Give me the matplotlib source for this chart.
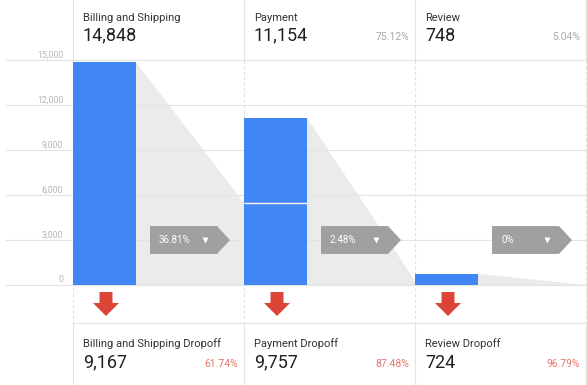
import matplotlib.pyplot as plt
from matplotlib.transforms import blended_transform_factory

plt.rcParams['font.family'] = ['Roboto', 'DejaVu Sans']

steps = ["Billing and Shipping", "Payment", "Review"]
entries = [14848, 11154, 748]
entry_labels = ["14,848", "11,154", "748"]
entry_pct = ["", "75.12%", "5.04%"]
continued_pct = [36.81, 2.48, 0]
continued_labels = ["36.81%", "2.48%", "0%"]
# part of each bar that came from the previous step (visible on Payment only)
carried_in = [None, 5450, None]
dropoff_names = ["Billing and Shipping Dropoff", "Payment Dropoff", "Review Dropoff"]
dropoff_labels = ["9,167", "9,757", "724"]
dropoff_pct = ["61.74%", "87.48%", "96.79%"]
yticks = [0, 3000, 6000, 9000, 12000, 15000]

W, H = 587, 385
fig = plt.figure(figsize=(W / 100, H / 100), dpi=100)
ax = fig.add_axes([73 / W, 100 / H, 513 / W, 225 / H])
ax.set_xlim(0, 3)
ax.set_ylim(0, 15000)
ax.axis("off")

px = 1 / 171  # one pixel in x data units
tr = blended_transform_factory(ax.transData, fig.transFigure)


def fy(py):
    return 1 - py / H


grid_c = "#e3e3e3"
bw = 63 * px

# grid + y labels
ax.hlines(yticks, -68 * px, 3, color=grid_c, lw=0.8, zorder=1, clip_on=False)
for v in yticks:
    ax.text(-10 * px, v + 180, f"{v:,}", ha="right", va="baseline",
            fontsize=6.3, color="#b5b5b5")

# column separators
for i in range(4):
    ax.plot([i, i], [fy(0), fy(60)], transform=tr, color=grid_c, lw=0.8, clip_on=False)
    ax.plot([i, i], [fy(60), fy(323)], transform=tr, color=grid_c, lw=0.8,
            ls=(0, (3, 2)), clip_on=False)
    ax.plot([i, i], [fy(323), fy(H)], transform=tr, color=grid_c, lw=0.8, clip_on=False)
ax.plot([0, 3], [fy(323), fy(323)], transform=tr, color=grid_c, lw=0.8, clip_on=False)

# funnel flow shapes
for i, n in enumerate(entries):
    nxt = n * continued_pct[i] / 100
    ax.fill([i + bw, i + bw, i + 1, i + 1], [0, n, nxt, 0], color="#ebebeb", lw=0, zorder=0)

# bars
ax.bar(range(3), entries, width=bw, align="edge", color="#4285f4", zorder=3)
for i, c in enumerate(carried_in):
    if c is not None:
        ax.hlines(c, i, i + bw, color="white", lw=1, zorder=4)

# continuation tags
for i, lab in enumerate(continued_labels):
    x0 = i + 77 * px
    ax.fill([x0, x0 + 67 * px, x0 + 80 * px, x0 + 67 * px, x0],
            [2070, 2070, 3000, 3930, 3930], color="#a0a0a0", lw=0, zorder=5)
    ax.text(x0 + 9 * px, 2980, lab, color="white", fontsize=7, va="center", zorder=6)
    ax.plot(x0 + 55 * px, 3000, marker="v", ms=4, color="white", mec="none", zorder=6)

# dropoff arrows
for i in range(3):
    cx = i + 33 * px
    xs = [cx - 6.5 * px, cx + 6.5 * px, cx + 6.5 * px, cx + 13 * px, cx,
          cx - 13 * px, cx - 6.5 * px]
    ys = [fy(292), fy(292), fy(303), fy(303), fy(316), fy(303), fy(303)]
    ax.fill(xs, ys, transform=tr, color="#db4437", lw=0, clip_on=False)

# header + footer texts
for i in range(3):
    ax.text(i + 10 * px, fy(20.7), steps[i], transform=tr, fontsize=8, color="#333333")
    ax.text(i + 10 * px, fy(40.7), entry_labels[i], transform=tr, fontsize=13, color="#212121")
    ax.text(i + 165 * px, fy(40), entry_pct[i], transform=tr, fontsize=7.5,
            color="#aaaaaa", ha="right")
    ax.text(i + 10 * px, fy(347.3), dropoff_names[i], transform=tr, fontsize=8, color="#333333")
    ax.text(i + 10 * px, fy(367.7), dropoff_labels[i], transform=tr, fontsize=13, color="#212121")
    ax.text(i + 165 * px, fy(366.7), dropoff_pct[i], transform=tr, fontsize=7.5,
            color="#e0796e", ha="right")

fig.savefig("out.png", dpi=100, facecolor="white")
